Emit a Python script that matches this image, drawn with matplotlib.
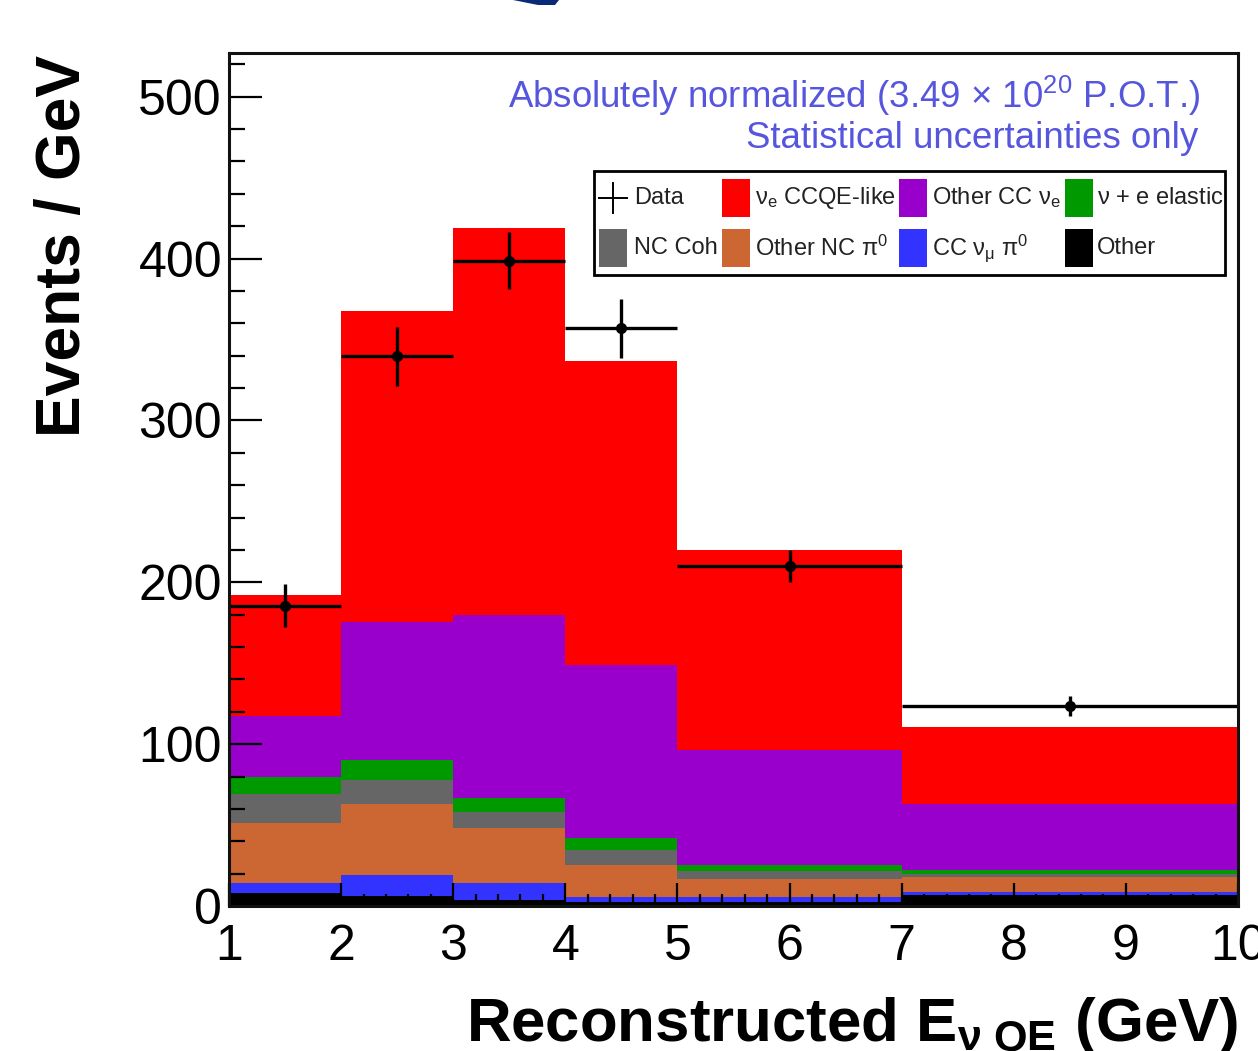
import matplotlib
matplotlib.use("Agg")
import matplotlib.pyplot as plt
from matplotlib.patches import Rectangle, Polygon
from matplotlib.lines import Line2D
from matplotlib.ticker import MultipleLocator
import numpy as np

plt.rcParams["font.family"] = ["Liberation Sans", "DejaVu Sans"]
plt.rcParams["mathtext.fontset"] = "custom"
plt.rcParams["mathtext.rm"] = "Liberation Sans"
plt.rcParams["mathtext.it"] = "Liberation Sans:italic"
plt.rcParams["mathtext.bf"] = "Liberation Sans:bold"
plt.rcParams["mathtext.default"] = "regular"

# bin edges in reconstructed energy (GeV)
edges = [1, 2, 3, 4, 5, 7, 10]

# stacked components, events / GeV per bin (bottom to top)
other = [7.8, 6.2, 3.7, 2.7, 2.7, 6.8]
cc_numu_pi0 = [6.2, 12.9, 10.3, 3.1, 3.1, 2.0]
other_nc_pi0 = [37.0, 43.7, 34.0, 19.5, 10.9, 9.3]
nc_coh = [18.5, 15.0, 10.2, 9.3, 5.1, 1.4]
nu_e_elastic = [10.3, 12.2, 8.3, 7.2, 3.5, 2.7]
other_cc_nue = [37.5, 85.3, 113.1, 107.0, 71.0, 40.8]
nue_ccqe = [74.7, 192.0, 239.4, 188.2, 123.5, 47.5]

# data points with statistical errors
data_x = [1.5, 2.5, 3.5, 4.5, 6.0, 8.5]
data_y = [185.5, 339.5, 398.8, 356.8, 209.9, 123.5]
data_err = [13.3, 18.0, 17.5, 18.5, 10.0, 6.0]
data_xerr = [0.5, 0.5, 0.5, 0.5, 1.0, 1.5]

components = [
    (other, "#000000"),
    (cc_numu_pi0, "#3333ff"),
    (other_nc_pi0, "#cc6633"),
    (nc_coh, "#666666"),
    (nu_e_elastic, "#009900"),
    (other_cc_nue, "#9900cc"),
    (nue_ccqe, "#ff0000"),
]

W, H = 1258, 1051


def fx(px):
    return px / W


def fy(py):
    return 1 - py / H


fig = plt.figure(figsize=(W / 100, H / 100), dpi=100)
ax = fig.add_axes([fx(229), fy(906), fx(1238) - fx(229), fy(53) - fy(906)])

left = np.array(edges[:-1], dtype=float)
widths = np.diff(edges).astype(float)
bottom = np.zeros(len(left))
for vals, col in components:
    vals = np.asarray(vals, dtype=float)
    ax.bar(left, vals, width=widths, bottom=bottom, align="edge",
           color=col, linewidth=0, zorder=1)
    bottom += vals

ax.errorbar(data_x, data_y, yerr=data_err, xerr=data_xerr, fmt="o",
            color="black", markersize=7, elinewidth=2.4, capsize=0,
            zorder=3)

ax.set_xlim(1, 10)
ax.set_ylim(0, 527)
ax.xaxis.set_major_locator(MultipleLocator(1))
ax.xaxis.set_minor_locator(MultipleLocator(0.2))
ax.yaxis.set_major_locator(MultipleLocator(100))
ax.yaxis.set_minor_locator(MultipleLocator(20))
ax.tick_params(axis="both", which="both", direction="in", colors="black",
               width=1.6, top=False, right=False)
ax.tick_params(axis="y", which="major", length=24, pad=5, labelsize=36)
ax.tick_params(axis="y", which="minor", length=11.5)
ax.tick_params(axis="x", which="major", length=16.5, pad=13, labelsize=36)
ax.tick_params(axis="x", which="minor", length=8.5)
for sp in ax.spines.values():
    sp.set_linewidth(2.2)
    sp.set_color("#111111")
    sp.set_zorder(4)

fig.text(fx(64), fy(55), "Events / GeV", rotation=90, ha="center",
         va="top", fontsize=45, fontweight="bold")
fig.text(fx(1238), fy(1041),
         r"Reconstructed $\mathbf{E}_{\mathbf{\nu\ QE}}$ (GeV)",
         ha="right", va="baseline", fontsize=44.5, fontweight="bold")

blue_txt = "#5555dd"
fig.text(fx(1200), fy(108),
         r"Absolutely normalized (3.49 $\times$ 10$^{20}$ P.O.T.)",
         ha="right", va="baseline", fontsize=26.4, color=blue_txt)
fig.text(fx(1198), fy(148), "Statistical uncertainties only",
         ha="right", va="baseline", fontsize=26.4, color=blue_txt)

# legend drawn by hand in ROOT style (equal column widths)
fig.add_artist(Rectangle((fx(594), fy(275)), fx(1225) - fx(594),
                         fy(171) - fy(275), transform=fig.transFigure,
                         facecolor="white", edgecolor="black",
                         linewidth=2, zorder=5))
sym_x = [599, 722, 899, 1065]
txt_x = [634, 755, 932, 1097]
row_y = [198, 248]
entries = [
    ("Data", None),
    (r"$\nu_e$ CCQE-like", "#ff0000"),
    (r"Other CC $\nu_e$", "#9900cc"),
    (r"$\nu$ + e elastic", "#009900"),
    ("NC Coh", "#666666"),
    (r"Other NC $\pi^0$", "#cc6633"),
    (r"CC $\nu_\mu$ $\pi^0$", "#3333ff"),
    ("Other", "#000000"),
]
for i, (label, col) in enumerate(entries):
    r, c = divmod(i, 4)
    y = row_y[r]
    x0 = sym_x[c]
    if col is None:
        fig.add_artist(Line2D([fx(x0), fx(x0 + 28)], [fy(y), fy(y)],
                              transform=fig.transFigure, color="black",
                              linewidth=1.4, zorder=6))
        fig.add_artist(Line2D([fx(x0 + 14), fx(x0 + 14)],
                              [fy(y - 15), fy(y + 15)],
                              transform=fig.transFigure, color="black",
                              linewidth=1.4, zorder=6))
    else:
        fig.add_artist(Rectangle((fx(x0), fy(y + 19)), fx(28),
                                 fy(0) - fy(38), transform=fig.transFigure,
                                 facecolor=col, edgecolor="none", zorder=6))
    fig.text(fx(txt_x[c]), fy(y), label, ha="left", va="center",
             fontsize=17, color="#222222", zorder=7)

# fragment of a logo cut by the top edge
fig.add_artist(Polygon([(fx(513), fy(0)), (fx(559), fy(0)), (fx(555), fy(5)),
                        (fx(538), fy(5))], closed=True,
                       transform=fig.transFigure, facecolor="#0a2a78",
                       edgecolor="none"))

fig.savefig("out.png", dpi=100)
